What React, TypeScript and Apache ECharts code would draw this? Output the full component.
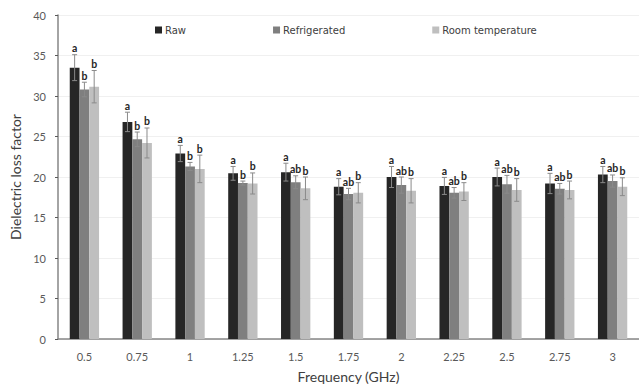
import React, { useEffect, useRef } from "react";
import * as echarts from "echarts";

const categories = ["0.5", "0.75", "1", "1.25", "1.5", "1.75", "2", "2.25", "2.5", "2.75", "3"];
const seriesNames = ["Raw", "Refrigerated", "Room temperature"];
const raw = [33.5, 26.8, 22.9, 20.45, 20.6, 18.8, 20.0, 18.9, 20.0, 19.2, 20.3];
const rawErr = [1.6, 1.2, 1.0, 0.85, 1.1, 1.0, 1.3, 1.05, 1.1, 1.25, 1.0];
const refrigerated = [30.8, 24.65, 21.3, 19.25, 19.35, 17.9, 19.0, 18.05, 19.1, 18.55, 19.5];
const refrigeratedErr = [0.9, 0.9, 0.5, 0.25, 0.8, 0.7, 1.0, 0.65, 1.1, 0.65, 0.75];
const room = [31.15, 24.2, 21.0, 19.2, 18.6, 18.05, 18.3, 18.2, 18.4, 18.4, 18.8];
const roomErr = [2.0, 1.85, 1.7, 1.3, 1.4, 1.25, 1.5, 1.1, 1.4, 1.1, 1.1];
const rawLetters = ["a", "a", "a", "a", "a", "a", "a", "a", "a", "a", "a"];
const refrigeratedLetters = ["b", "b", "b", "b", "ab", "ab", "ab", "ab", "ab", "ab", "ab"];
const roomLetters = ["b", "b", "b", "b", "b", "b", "b", "b", "b", "b", "b"];

const colors = ["#262626", "#7f7f7f", "#bfbfbf"];
const FONT = "Lato, 'Open Sans', sans-serif";
const LEGEND_FONT = "'DejaVu Sans', sans-serif";
const BAR_FRAC = 0.185;

export default function App() {
  const ref = useRef<HTMLDivElement>(null);
  useEffect(() => {
    if (!ref.current) return;
    document.body.style.margin = "0";
    const chart = echarts.init(ref.current, undefined, { renderer: "svg" });
    const values = [raw, refrigerated, room];
    const errs = [rawErr, refrigeratedErr, roomErr];
    const letters = [rawLetters, refrigeratedLetters, roomLetters];

    const barSeries = seriesNames.map((name, s) => ({
      name,
      type: "bar",
      data: values[s],
      barWidth: BAR_FRAC * 100 + "%",
      barGap: "0%",
      itemStyle: { color: colors[s] },
      z: 2,
    }));

    const errSeries = seriesNames.map((name, s) => ({
      name: name + " error",
      type: "custom",
      z: 5,
      data: values[s].map((v, i) => [i, v, errs[s][i]]),
      encode: { x: 0, y: 1 },
      renderItem: (params: any, api: any) => {
        const idx = api.value(0);
        const v = api.value(1);
        const e = api.value(2);
        const band = api.size([1, 0])[0];
        const off = (s - 1) * band * BAR_FRAC;
        const top = api.coord([idx, v + e]);
        const bot = api.coord([idx, v - e]);
        const x = top[0] + off;
        const cap = 2.5;
        const st = { stroke: "#8a8a8a", lineWidth: 1 };
        return {
          type: "group",
          children: [
            { type: "line", shape: { x1: x, y1: top[1], x2: x, y2: bot[1] }, style: st },
            { type: "line", shape: { x1: x - cap, y1: top[1], x2: x + cap, y2: top[1] }, style: st },
            { type: "line", shape: { x1: x - cap, y1: bot[1], x2: x + cap, y2: bot[1] }, style: st },
            {
              type: "text",
              x,
              y: top[1] - 1,
              style: {
                text: letters[s][params.dataIndex],
                fill: "#262626",
                font: "bold 10.5px " + FONT,
                align: "center",
                verticalAlign: "bottom",
              },
            },
          ],
        };
      },
    }));

    chart.setOption({
      animation: false,
      backgroundColor: "#ffffff",
      textStyle: { fontFamily: FONT },
      legend: {
        data: seriesNames,
        left: 155,
        top: 25,
        padding: 0,
        itemWidth: 7,
        itemHeight: 7,
        itemGap: 87,
        icon: "rect",
        textStyle: { fontSize: 10, color: "#404040", fontFamily: LEGEND_FONT, padding: [0, 0, 0, -2] },
      },
      grid: { left: 58, right: -12, top: 15, bottom: 49 },
      xAxis: {
        type: "category",
        data: categories,
        name: "Frequency (GHz)",
        nameLocation: "middle",
        nameGap: 30,
        nameTextStyle: { fontSize: 14, color: "#404040", fontFamily: FONT },
        axisLine: { lineStyle: { color: "#868686", width: 1.5 } },
        axisTick: { inside: true, length: 3, lineStyle: { color: "#595959" } },
        axisLabel: { fontSize: 11, color: "#595959", margin: 12, fontFamily: FONT },
      },
      yAxis: {
        type: "value",
        min: 0,
        max: 40,
        interval: 5,
        name: "Dielectric loss factor",
        nameLocation: "middle",
        nameGap: 36,
        nameTextStyle: { fontSize: 14, color: "#404040", fontFamily: FONT },
        axisLine: { show: true, lineStyle: { color: "#868686", width: 1.5 } },
        axisTick: { show: true, length: 3, lineStyle: { color: "#595959" } },
        axisLabel: { fontSize: 11, color: "#595959", margin: 12, fontFamily: FONT },
        splitLine: { lineStyle: { color: "#f0f0f0" } },
      },
      series: [...barSeries, ...errSeries],
    });
    return () => chart.dispose();
  }, []);
  return <div ref={ref} style={{ width: 639, height: 388, position: "absolute", left: 0, top: 0 }} />;
}
